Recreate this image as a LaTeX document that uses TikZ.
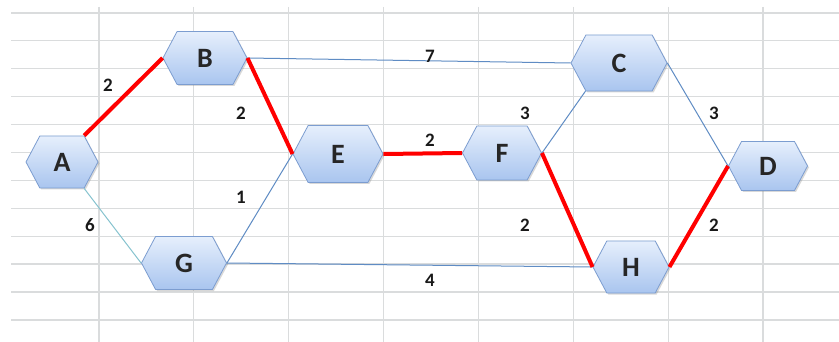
\documentclass[tikz,border=0pt]{standalone}
\usepackage{fontspec}
\setmainfont{Carlito}
\usetikzlibrary{shapes.symbols,shadows}

\definecolor{gridgray}{HTML}{DADCDD}
\definecolor{hexline}{HTML}{7C9DD0}
\definecolor{hextop}{HTML}{E6EFFC}
\definecolor{hexbot}{HTML}{A9C5EF}
\definecolor{linkblue}{HTML}{5F8CC4}
\definecolor{linkteal}{HTML}{86C3CF}

\begin{document}
\begin{tikzpicture}[x=1pt,y=-1pt,
    hex/.style={signal,signal to=west and east,signal pointer angle=124,
        draw=hexline,line width=0.8pt,top color=hextop,bottom color=hexbot,
        drop shadow={opacity=0.3,shadow xshift=1.5pt,shadow yshift=-1.5pt},
        inner sep=0pt,text=black!85,font=\fontsize{28}{28}\selectfont\bfseries},
    gridline/.style={gridgray,line width=1.2pt},
    link/.style={linkblue,line width=1pt},
    crit/.style={red,line width=4pt},
    wt/.style={font=\fontsize{19}{19}\selectfont\bfseries,text=black!90}]
    \useasboundingbox (0,0) rectangle (839,342);
    \fill[white] (0,0) rectangle (839,342);

    % spreadsheet grid
    \foreach \k in {0,...,11}
        \draw[gridline] (11,{13+27.9*\k}) -- (839,{13+27.9*\k});
    \foreach \k in {0,...,7}
        \draw[gridline] ({99+94.85*\k},7) -- ({99+94.85*\k},342);

    \node[hex,minimum width=72,minimum height=52] (A) at (62,162) {A};
    \node[hex,minimum width=84,minimum height=53] (B) at (205,58) {B};
    \node[hex,minimum width=96,minimum height=56] (C) at (619,63) {C};
    \node[hex,minimum width=79,minimum height=49] (D) at (768,166) {D};
    \node[hex,minimum width=90,minimum height=57] (E) at (338,154) {E};
    \node[hex,minimum width=79,minimum height=54] (F) at (502,153) {F};
    \node[hex,minimum width=85,minimum height=53] (G) at (184,263) {G};
    \node[hex,minimum width=76,minimum height=52] (H) at (631,267) {H};

    \draw[link] (B.east) -- (C.west);
    \draw[link,linkteal] (A.-50) -- (G.west);
    \draw[link] (G.east) -- (E.west);
    \draw[link] (G.east) -- (H.west);
    \draw[link] (F.east) -- (C.220);
    \draw[link] (C.east) -- (D.west);

    % critical path
    \draw[crit] (A.50) -- (B.west);
    \draw[crit] (B.east) -- (E.west);
    \draw[crit] (E.east) -- (F.west);
    \draw[crit] (F.east) -- (H.west);
    \draw[crit] (H.east) -- (D.west);

    \node[wt] (wAB) at (108,85) {2};
    \node[wt] (wBE) at (241,113) {2};
    \node[wt] (wAG) at (90,225) {6};
    \node[wt] (wGE) at (241,197) {1};
    \node[wt] (wBC) at (430,56) {7};
    \node[wt] (wEF) at (430,140) {2};
    \node[wt] (wFC) at (525,113) {3};
    \node[wt] (wFH) at (525,225) {2};
    \node[wt] (wGH) at (430,280) {4};
    \node[wt] (wCD) at (714,113) {3};
    \node[wt] (wHD) at (714,225) {2};
\end{tikzpicture}
\end{document}
